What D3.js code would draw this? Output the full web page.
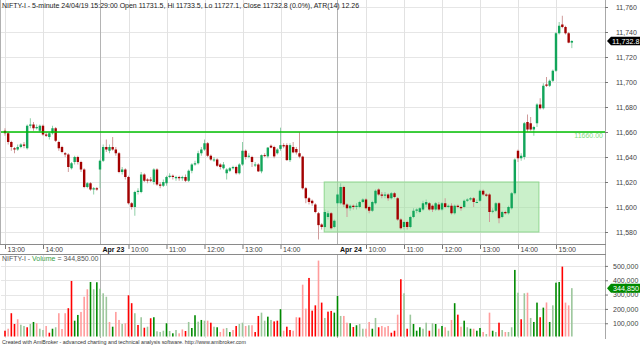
<!DOCTYPE html>
<html><head><meta charset="utf-8">
<script src="https://cdn.jsdelivr.net/npm/d3@7"></script>
<style>body{margin:0;background:#fff}svg{display:block;font-family:Arial,"Liberation Sans",sans-serif}</style>
</head><body><svg id="c" width="640" height="346"></svg>
<script>
const openP=[11661,11659,11652,11647,11646,11648,11650,11647,11665,11666,11663,11661,11665,11658,11656,11659,11663,11652,11648,11643,11642,11631,11636,11640,11636,11630,11616,11619,11614,11615,
11630,11637,11648,11645,11648,11646,11643,11628,11630,11624,11603,11600,11612,11612,11626,11622,11622,11620,11630,11618,11617,11619,11624,11625,11623,11624,11623,11624,11621,11629,
11634,11635,11643,11646,11651,11641,11638,11638,11634,11631,11627,11629,11631,11632,11627,11634,11645,11641,11640,11634,11634,11628.5,11641.5,11640.5,11649,11648,11643,11646.5,11649.5,11649.5,
11637.5,11648,11646.4,11643,11640.3,11615,11607,11605,11602,11595,11586,11584,11592,11595,11584,11603,11603,11616,11602,11599,11601,11600,11600,11604,11606,11600,11597,11603,11614,11610,
11609,11610,11607,11611,11607,11590,11584,11588,11584,11592,11597,11596,11598,11602,11603,11601,11598,11602,11598,11603,11600,11601,11595,11601,11600,11600,11605,11606,11607,11604,
11605,11613,11610,11610,11597,11597,11603,11592,11596,11595,11599,11611,11645,11639,11640,11668,11667,11662,11667,11682,11679,11698,11697,11701,11709,11739,11746,11744,11739,11731.5];
const highP=[11663,11660,11653,11648,11650,11651,11652,11666,11671,11668,11666,11666,11666,11660,11660,11665,11664,11653,11649,11644,11643,11636,11641,11641,11637,11631,11620,11620,11616,11616,
11638,11650,11654,11650,11656,11648,11644,11632,11631,11625,11604,11613,11615,11628,11627,11623,11624,11631,11631,11620,11622,11625,11627,11626,11625,11625,11625,11626,11630,11635,
11637,11645,11648,11654,11652,11642,11640,11639,11635,11636,11631,11632,11633,11633,11635,11652,11646,11643,11641,11636,11635,11642,11643,11648,11650,11649,11647,11663.5,11651,11651,
11651,11652,11648,11660,11641,11616,11608,11606,11603,11596,11587,11598,11597,11596,11590,11611,11619,11617,11603,11602,11602,11603,11605,11607,11607,11601,11605,11614,11615,11612,
11612,11611,11612,11612,11608,11591,11589,11589,11593,11599,11599,11600,11605,11606,11604,11602,11604,11604,11604,11607,11602,11603,11602,11602,11601,11606,11607,11608,11608,11606,
11614,11614,11611,11611,11599,11604,11604,11597,11597,11601,11612,11639,11646,11643,11668,11674,11672,11665,11683,11687,11699,11704,11702,11710,11740,11748,11753,11745,11740,11733.5];
const lowP=[11657,11650,11645,11643,11645,11647,11647,11646,11663,11661,11662,11660,11657,11656,11654,11658,11652,11645,11643,11640,11628,11630,11634,11634,11628,11615,11615,11613,11610,11613,
11615,11636,11644,11643,11645,11641,11627,11626,11622,11602,11598,11593,11610,11611,11620,11619,11620,11618,11617,11615,11616,11617,11623,11622,11621,11621,11621,11620,11620,11627,
11633,11634,11641,11645,11640,11637,11636,11632,11630,11630,11622,11628,11630,11626,11626,11633,11638,11639,11632,11632,11628,11627,11640,11639,11647,11639,11642,11645,11647,11637,
11636,11643,11642,11639,11614,11603,11602,11601,11595,11574,11582,11583,11590,11582,11583,11601,11602,11600,11592,11597,11598,11598,11599,11603,11598,11595,11596,11602,11609,11607,
11607,11605,11606,11607,11589,11582,11582,11582,11583,11591,11595,11595,11597,11600,11597,11596,11597,11597,11597,11599,11599,11594,11594,11599,11597,11599,11604,11605,11600,11603,
11604,11609,11608,11588,11595,11596,11587,11591,11594,11594,11598,11610,11636,11637,11638,11660,11661,11657,11664,11678,11678,11696,11696,11700,11708,11738,11743,11738,11731,11727.1];
const closeP=[11659,11652,11648,11646,11648,11650,11649,11665,11666,11663,11664,11665,11658,11657,11659,11663,11653,11647,11644,11642,11632,11635,11640,11636,11630,11616,11619,11614,11615,11614,
11637,11648,11646,11648,11646,11643,11628,11630,11624,11603,11600,11612,11613,11626,11621,11621,11621,11630,11618,11617,11620,11624,11625,11624,11624,11623,11624,11621,11629,11634,
11635,11643,11646,11651,11641,11638,11638,11633,11632,11634,11630,11631,11632,11627,11634,11645,11640,11641,11636,11634,11628.5,11641.5,11641,11647.5,11647.5,11640.5,11646,11649.5,11648.5,11637.5,
11649.5,11643.7,11643.7,11640.3,11615,11607,11604,11603,11596,11585.5,11584,11596,11595,11583,11589,11610,11616,11602,11599,11601,11600,11601,11604,11606,11599,11597,11604,11613,11610,11609,
11610,11607,11611,11608,11590,11583,11588,11584,11592,11597,11598,11599,11603,11604,11598,11598,11603,11598,11603,11600,11601,11595,11601,11600,11599,11605,11606,11607,11604,11604,
11613,11610,11609,11596,11597,11603,11591,11596,11595,11600,11611,11638,11639,11641,11667,11662,11662,11664,11682,11679,11697,11697,11701,11709,11739,11745,11744,11739,11731.5,11732.8];
const volume=[48,62,170,95,128,90,81,72,95,109,100,62,53,81,34,62,72,170,60,170,205,395,118,158,179,285,337,388,337,386,
341,309,285,109,76,179,123,95,100,295,240,170,88,142,69,76,135,142,44,39,48,100,46,30,53,30,57,46,109,67,
156,111,123,118,118,104,76,72,39,62,67,39,53,81,95,104,81,86,86,39,151,174,118,146,123,113,118,198,48,76,
53,48,142,140,369,202,416,188,225,537,244,137,181,186,174,290,151,151,104,100,74,86,95,62,62,109,62,137,72,81,
72,81,34,48,160,407,309,62,160,95,48,72,62,104,48,100,95,62,81,72,48,123,240,160,76,118,72,62,62,48,
67,39,25,174,48,39,104,53,39,39,72,472,313,128,309,313,137,109,244,142,209,245,109,225,383,388,495,244,225,344.85].map(v=>v*1000);
const volShade=["R","P","R","R","P","L","L","R","L","G","P","L","L","P","R","G","L","P","P","P","R","R","G","G","P","P","P","G","L","G",
"L","L","L","P","G","P","P","L","P","R","R","L","R","L","R","L","R","G","L","L","L","G","L","G","L","P","P","R","L","G",
"G","L","G","L","P","R","L","G","P","P","L","G","P","R","L","L","P","L","P","R","R","L","L","G","L","R","R","G","P","R",
"R","P","P","R","P","P","R","R","R","P","R","L","R","R","G","G","L","P","P","G","R","G","L","L","P","P","G","L","R","P",
"P","P","R","R","P","R","L","R","L","G","G","G","L","L","R","L","G","P","G","P","L","P","G","R","P","G","L","G","P","G",
"G","P","L","P","G","L","R","L","P","L","L","G","L","R","L","P","L","G","G","R","G","P","G","L","G","G","R","P","P","L"];
const timeTicks=[0,12,30,39,51,63,75,87,105,114,126,138,150,162,174];
const timeLabels=["13:00","14:00","Apr 23","10:00","11:00","12:00","13:00","14:00","Apr 24","10:00","11:00","12:00","13:00","14:00","15:00"];
const dayStarts=[30,105];
const priceTicks=[11580,11600,11620,11640,11660,11680,11700,11720,11740,11760];
const volTicks=[100000,200000,300000,400000,500000];
const levelPrice=11660;
const zoneFrom=100.8, zoneTo=168.6, zoneLo=11580, zoneHi=11620;
const titleText="NIFTY-I - 5-minute 24/04/19 15:29:00 Open 11731.5, Hi 11733.5, Lo 11727.1, Close 11732.8 (0.0%), ATR(14) 12.26";
const lastVolume=344850;

const svg=d3.select("#c");
const n=closeP.length;
const x=d3.scaleLinear().domain([0,n-1]).range([5,5+(n-1)*38/12]);
const y=d3.scaleLinear().domain([11580,11760]).range([232,7]);
const yv=d3.scaleLinear().domain([0,500000]).range([337.6,265.9]);
const R=605, px=v=>Math.round(v)+0.5;

// grids
const g=svg.append("g");
g.selectAll(".hg").data(priceTicks).join("line").attr("x1",1).attr("x2",R).attr("y1",d=>px(y(d))).attr("y2",d=>px(y(d))).attr("stroke","#e6e6e6");
g.selectAll(".vg").data(volTicks).join("line").attr("x1",1).attr("x2",R).attr("y1",d=>px(yv(d))).attr("y2",d=>px(yv(d))).attr("stroke","#e6e6e6");
timeTicks.forEach(t=>{
  const day=dayStarts.includes(t);
  const xx=day?px(x(t)-0.5):px(x(t));
  [[0,244],[255,338]].forEach(([a,b])=>g.append("line").attr("x1",xx).attr("x2",xx).attr("y1",a).attr("y2",b).attr("stroke",day?"#b4b4b4":"#e2e2e2"));
});
// borders
g.append("line").attr("x1",0.5).attr("x2",0.5).attr("y1",0).attr("y2",244).attr("stroke","#b0b0b0");
g.append("line").attr("x1",R+0.5).attr("x2",R+0.5).attr("y1",0).attr("y2",339).attr("stroke","#a8a8a8");
g.append("line").attr("x1",0).attr("x2",R+1).attr("y1",244.5).attr("y2",244.5).attr("stroke","#8a8a8a");
g.append("line").attr("x1",0).attr("x2",R+1).attr("y1",254.5).attr("y2",254.5).attr("stroke","#8a8a8a");

// zone
svg.append("rect").attr("x",x(zoneFrom)).attr("y",y(zoneHi)).attr("width",x(zoneTo)-x(zoneFrom)).attr("height",y(zoneLo)-y(zoneHi))
  .attr("fill","rgb(150,225,150)").attr("fill-opacity",0.5).attr("stroke","#8fd88f").attr("stroke-width",1);

// candles
const idx=d3.range(n);
const up=i=>closeP[i]>=openP[i];
svg.append("g").selectAll("line").data(idx).join("line")
  .attr("x1",i=>x(i)).attr("x2",i=>x(i)).attr("y1",i=>y(highP[i])).attr("y2",i=>y(lowP[i]))
  .attr("stroke",i=>up(i)?"#8fcfa8":"#cf9a9a").attr("stroke-width",1);
svg.append("g").selectAll("rect").data(idx).join("rect")
  .attr("x",i=>x(i)-1.2).attr("width",2.4)
  .attr("y",i=>y(Math.max(openP[i],closeP[i])))
  .attr("height",i=>Math.max(1,Math.abs(y(openP[i])-y(closeP[i]))))
  .attr("fill",i=>up(i)?"#12a55a":"#a30000");

// level line
svg.append("line").attr("x1",1).attr("x2",R).attr("y1",y(levelPrice)).attr("y2",y(levelPrice)).attr("stroke","#00c000").attr("stroke-width",1.3);
svg.append("text").attr("x",603).attr("y",y(levelPrice)+6).attr("text-anchor","end").attr("font-size",7).attr("fill","#7fdc7f").text(d3.format(".2f")(levelPrice));

// volume bars
const vc={R:"#ff0000",P:"#ff9c9c",G:"#008a00",L:"#9cc79c"};
svg.append("g").selectAll("rect").data(idx).join("rect")
  .attr("x",i=>x(i)-0.8).attr("width",1.6).attr("y",i=>yv(volume[i])).attr("height",i=>336.5-yv(volume[i]))
  .attr("fill",i=>vc[volShade[i]]);

// axes
const ay=svg.append("g").attr("transform",`translate(${R},0)`).call(d3.axisRight(y).tickValues(priceTicks).tickSize(3).tickPadding(8).tickFormat(d3.format(",")));
const av=svg.append("g").attr("transform",`translate(${R},0)`).call(d3.axisRight(yv).tickValues(volTicks).tickSize(3).tickPadding(5).tickFormat(d3.format(",")));
const ax=svg.append("g").attr("transform","translate(0,245)").call(d3.axisBottom(x).tickValues(timeTicks).tickSize(4).tickFormat((d,i)=>timeLabels[i]));
[ay,av,ax].forEach(a=>{a.select(".domain").remove();a.selectAll("line").attr("stroke","#777");a.selectAll("text").attr("font-size",7).attr("fill","#444").attr("font-family","Arial, Liberation Sans, sans-serif");});
ax.selectAll("text").attr("text-anchor","start").attr("dy",null).attr("y",6.6).attr("x",2)
  .attr("font-weight",(d)=>dayStarts.includes(d)?"bold":"normal").attr("fill",d=>dayStarts.includes(d)?"#111":"#444");
ax.selectAll(".tick").filter(d=>dayStarts.includes(d)).select("line").remove();

// markers
const lastClose=closeP[n-1], my=y(lastClose);
svg.append("path").attr("d",`M607,${my} L611,${my-4.3} L640,${my-4.3} L640,${my+4.3} L611,${my+4.3} Z`).attr("fill","#000");
svg.append("text").attr("x",612).attr("y",my+2.6).attr("font-size",7.2).attr("fill","#fff").text(d3.format(",.1f")(lastClose));
const vy=yv(lastVolume);
svg.append("path").attr("d",`M607,${vy} L611,${vy-4.5} L640,${vy-4.5} L640,${vy+4.5} L611,${vy+4.5} Z`).attr("fill","#008a00");
svg.append("text").attr("x",613).attr("y",vy+2.6).attr("font-size",7.2).attr("fill","#fff").text(d3.format(",")(lastVolume));

// texts
svg.append("text").attr("x",2).attr("y",7.6).attr("font-size",7).attr("fill","#222").text(titleText);
const vt=svg.append("text").attr("x",2).attr("y",260.5).attr("font-size",7).attr("fill","#555");
vt.append("tspan").text("NIFTY-I - ");
vt.append("tspan").attr("fill","#3aa04a").text("Volume");
vt.append("tspan").text(" = "+d3.format(",.2f")(lastVolume));
svg.append("text").attr("x",2).attr("y",344).attr("font-size",5.4).attr("fill","#333").attr("textLength",244).attr("lengthAdjust","spacingAndGlyphs")
  .text("Created with AmiBroker - advanced charting and technical analysis software. http://www.amibroker.com");
</script></body></html>
